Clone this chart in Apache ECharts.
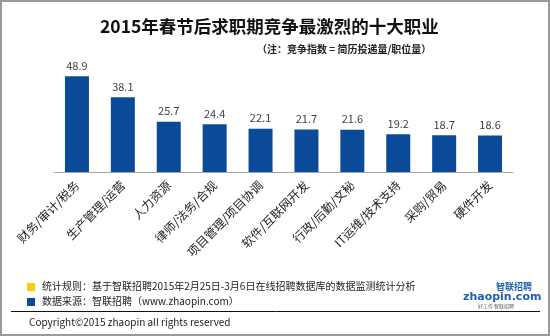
<!DOCTYPE html>
<html><head><meta charset="utf-8">
<script src="https://cdn.jsdelivr.net/npm/echarts@6/dist/echarts.min.js"></script>
<style>html,body{margin:0;padding:0;background:#fff}#c{width:550px;height:336px}</style>
</head><body><div id="c"></div>
<script>
const categories = ['财务/审计/税务','生产管理/运营','人力资源','律师/法务/合规','项目管理/项目协调','软件/互联网开发','行政/后勤/文秘','IT运维/技术支持','采购/贸易','硬件开发'];
const values = [48.9, 38.1, 25.7, 24.4, 22.1, 21.7, 21.6, 19.2, 18.7, 18.6];
const titleText = '2015年春节后求职期竞争最激烈的十大职业';
const noteText = '（注：竞争指数 = 简历投递量/职位量）';
const ruleText = '统计规则：基于智联招聘2015年2月25日-3月6日在线招聘数据库的数据监测统计分析';
const sourceText = '数据来源：智联招聘（www.zhaopin.com）';
const copyText = 'Copyright©2015 zhaopin all rights reserved';

const font = '"Microsoft YaHei","Noto Sans CJK SC",sans-serif';
const chart = echarts.init(document.getElementById('c'));
chart.setOption({
  animation: false,
  textStyle: {fontFamily: font},
  title: {text: titleText, left: 95, top: 13,
    textStyle: {fontSize: 17.5, fontWeight: 'bold', color: '#111', fontFamily: font}},
  grid: {left: 54, right: 37, top: 74, bottom: 164},
  xAxis: {type: 'category', data: categories,
    axisLine: {lineStyle: {color: '#a6a6a6'}}, axisTick: {show: false},
    axisLabel: {rotate: 45, interval: 0, fontSize: 12, color: '#222', margin: 11, fontFamily: font}},
  yAxis: {type: 'value', min: 0, max: 50, show: false, splitLine: {show: false}},
  series: [{type: 'bar', data: values, barWidth: 24,
    itemStyle: {color: '#0B4A99'},
    label: {show: true, position: 'top', distance: 5, fontSize: 11, color: '#404040', fontFamily: font}}],
  graphic: [
    {type: 'text', x: 257, y: 44, style: {text: noteText, font: 'bold 10px ' + font, fill: '#222'}},
    {type: 'rect', shape: {x: 27, y: 283, width: 8, height: 8}, style: {fill: '#FFCC00'}},
    {type: 'text', x: 42, y: 281, style: {text: ruleText, font: '10px ' + font, fill: '#222'}},
    {type: 'rect', shape: {x: 27, y: 298, width: 8, height: 8}, style: {fill: '#0B4A99'}},
    {type: 'text', x: 42, y: 296, style: {text: sourceText, font: '10px ' + font, fill: '#222'}},
    {type: 'line', shape: {x1: 11, y1: 311.5, x2: 540, y2: 311.5}, style: {stroke: '#111', lineWidth: 1}},
    {type: 'text', x: 29, y: 317, style: {text: copyText, font: '10px ' + font, fill: '#222'}},
    {type: 'text', x: 496, y: 282, style: {text: '智联招聘', font: 'bold 9px ' + font, fill: '#1f5fb3'}},
    {type: 'text', x: 463, y: 292, style: {text: 'zhaopin.com', font: 'bold 11px "DejaVu Sans",sans-serif', fill: '#1f5fb3'}},
    {type: 'text', x: 478, y: 304, style: {text: '好工作 智联招聘', font: '5px ' + font, fill: '#555'}},
    {type: 'rect', shape: {x: 1, y: 1, width: 548, height: 334}, style: {fill: 'none', stroke: '#9a9a9a', lineWidth: 2}}
  ]
});
</script></body></html>
